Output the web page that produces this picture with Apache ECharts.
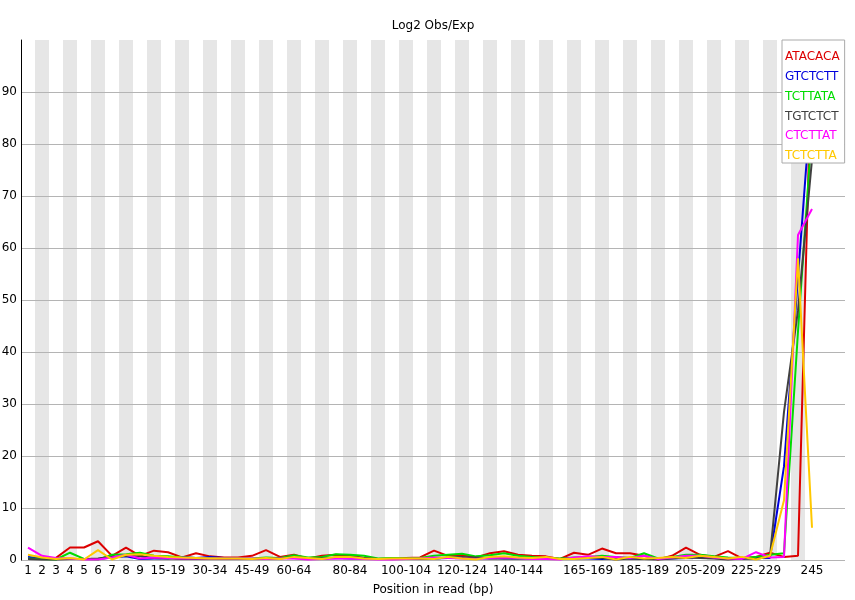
<!DOCTYPE html>
<html>
<head>
<meta charset="utf-8">
<script src="https://cdn.jsdelivr.net/npm/echarts@6/dist/echarts.min.js"></script>
<style>
html,body{margin:0;padding:0;background:#fff;}
#chart{width:855px;height:600px;}
</style>
</head>
<body>
<div id="chart"></div>
<script>
const categories = ['1','2','3','4','5','6','7','8','9','10-14','15-19','20-24','25-29','30-34','35-39','40-44','45-49','50-54','55-59','60-64','65-69','70-74','75-79','80-84','85-89','90-94','95-99','100-104','105-109','110-114','115-119','120-124','125-129','130-134','135-139','140-144','145-149','150-154','155-159','160-164','165-169','170-174','175-179','180-184','185-189','190-194','195-199','200-204','205-209','210-214','215-219','220-224','225-229','230-234','235-239','240-244','245'];
const shownLabels = ['1','2','3','4','5','6','7','8','9','15-19','30-34','45-49','60-64','80-84','100-104','120-124','140-144','165-169','185-189','205-209','225-229','245'];
const yTicks = [0,10,20,30,40,50,60,70,80,90];

const seriesNames = ['ATACACA','GTCTCTT','TCTTATA','TGTCTCT','CTCTTAT','TCTCTTA'];
const seriesColors = ['#dc0000','#0000dc','#00dc00','#404040','#ff00ff','#ffc800'];

const ATACACA = [0.3,0.3,0.4,2.4,2.4,3.6,0.8,2.4,0.8,1.8,1.5,0.5,1.3,0.7,0.5,0.5,0.8,1.9,0.6,1.0,
  0.3,0.8,1.0,0.8,0.4,0.2,0.3,0.4,0.5,1.8,0.8,1.0,0.5,1.3,1.7,1.0,0.8,0.7,0.2,
  1.4,1.0,2.2,1.3,1.3,0.8,0.1,0.8,2.4,1.0,0.6,1.7,0.3,0.6,1.4,0.6,0.8,100];
const GTCTCTT = [0.6,0.3,0.2,0.2,0.2,0.2,0.5,0.7,0.2,0.3,0.3,0.6,0.4,0.6,0.4,0.3,0.2,0.3,0.4,0.4,
  0.3,0.3,0.4,0.3,0.3,0.2,0.2,0.2,0.3,0.3,0.4,0.5,0.3,0.4,0.3,0.3,0.4,0.3,0.2,
  0.3,0.3,0.2,0.4,0.3,0.2,0.2,0.3,0.4,0.6,0.4,0.3,0.3,0.5,0.4,18,54.5,90.5];
const TCTTATA = [0.3,0.2,0.1,1.4,0.2,0.1,1.0,1.1,1.4,0.8,0.7,0.5,0.4,0.4,0.3,0.3,0.3,0.5,0.4,0.9,
  0.5,0.6,1.1,1.0,0.8,0.3,0.4,0.3,0.4,0.8,1.0,1.2,0.7,0.9,1.3,0.8,0.6,0.4,0.3,
  0.5,0.6,0.8,0.6,0.4,1.3,0.3,0.6,1.0,1.0,0.7,0.5,0.4,0.6,1.0,1.3,44,83];
const TGTCTCT = [0.2,0.1,0.1,0.2,0.2,0.3,0.6,0.8,0.7,0.4,0.3,0.2,0.2,0.2,0.2,0.2,0.2,0.2,0.3,0.6,
  0.3,0.3,0.5,0.6,0.4,0.2,0.2,0.2,0.2,0.3,0.5,0.6,0.5,0.3,0.3,0.3,0.3,0.2,0.2,
  0.3,0.5,0.4,0.1,0.3,0.2,0.1,0.3,0.5,0.4,0.3,0.1,0.3,0.2,0.7,28.5,48,77];
const CTCTTAT = [2.4,0.8,0.4,0.3,0.1,0.1,0.5,1.0,0.3,0.5,0.4,0.3,0.3,0.3,0.3,0.3,0.3,0.2,0.3,0.3,
  0.1,0.2,0.3,0.3,0.2,0.1,0.1,0.2,0.3,0.5,0.4,0.3,0.2,0.4,0.5,0.4,0.2,0.2,0.1,
  0.5,0.7,0.6,0.6,0.4,0.8,0.2,0.5,0.8,0.8,0.5,0.3,0.2,1.5,0.5,0.6,62.5,67.5];
const TCTCTTA = [1.0,0.5,0.2,0.4,0.1,1.9,0.1,1.0,1.1,0.8,0.6,0.5,0.4,0.3,0.3,0.3,0.2,0.4,0.2,0.6,
  0.4,0.2,0.6,0.6,0.3,0.2,0.3,0.3,0.3,0.2,0.6,0.3,0.1,0.6,0.7,0.5,0.4,0.6,0.2,
  0.2,0.4,0.6,0.1,0.6,0.3,0.4,0.6,0.4,0.8,0.6,0.3,0.6,0.1,0.8,11.5,58,6.2];
const seriesValues = [ATACACA, GTCTCTT, TCTTATA, TGTCTCT, CTCTTAT, TCTCTTA];

const FONT = 'DejaVu Sans';
const chart = echarts.init(document.getElementById('chart'), null, {renderer: 'canvas'});

const option = {
  animation: false,
  backgroundColor: '#ffffff',
  textStyle: {fontFamily: FONT},
  title: {
    text: 'Log2 Obs/Exp',
    left: 428,
    textAlign: 'center',
    top: 15,
    textStyle: {fontFamily: FONT, fontSize: 12, fontWeight: 'normal', color: '#000'}
  },
  legend: {
    orient: 'vertical',
    left: 782,
    top: 40,
    icon: 'none',
    itemWidth: 0,
    itemHeight: 14,
    itemGap: 6.8,
    padding: [10, 5, 1, -2],
    backgroundColor: '#ffffff',
    borderColor: '#aaaaaa',
    borderWidth: 1,
    z: 10,
    selectedMode: false,
    data: seriesNames.map((n, i) => ({name: n, textStyle: {color: seriesColors[i], fontFamily: FONT, fontSize: 12}}))
  },
  grid: [
    {left: 21, right: 10, top: 40, bottom: 40, outerBoundsMode: 'none', containLabel: false},
    {left: 21, width: 798, top: 40, bottom: 40, outerBoundsMode: 'none', containLabel: false}
  ],
  xAxis: [
    {
      gridIndex: 0, type: 'value', min: 0, max: 1,
      axisLine: {show: false}, axisTick: {show: false}, axisLabel: {show: false}, splitLine: {show: false},
      name: 'Position in read (bp)', nameLocation: 'middle', nameGap: 24,
      nameTextStyle: {fontFamily: FONT, fontSize: 12, color: '#000'}
    },
    {
      gridIndex: 1, type: 'category', data: categories, boundaryGap: true,
      axisLine: {show: false}, axisTick: {show: false},
      axisLabel: {interval: 0, margin: 5, color: '#000', fontFamily: FONT, fontSize: 12,
        formatter: v => shownLabels.includes(v) ? v : ''},
      splitLine: {show: false},
      splitArea: {show: true, interval: 0, areaStyle: {color: ['rgba(255,255,255,0)', '#e6e6e6']}},
      z: 0
    }
  ],
  yAxis: [
    {
      gridIndex: 0, type: 'value', min: 0, max: 100, interval: 10,
      axisLine: {show: true, lineStyle: {color: '#000', width: 1}},
      axisTick: {show: false},
      axisLabel: {margin: 4, color: '#000', fontFamily: FONT, fontSize: 12, showMaxLabel: false,
        formatter: v => yTicks.includes(v) ? String(v) : ''},
      splitLine: {show: true, showMaxLine: false, lineStyle: {color: '#b4b4b4', width: 1}},
      z: 1
    },
    {
      gridIndex: 1, type: 'value', min: 0, max: 100, show: false
    }
  ],
  series: seriesNames.map((n, i) => ({
    name: n,
    type: 'line',
    xAxisIndex: 1,
    yAxisIndex: 1,
    data: seriesValues[i],
    showSymbol: false,
    symbol: 'none',
    lineStyle: {color: seriesColors[i], width: 2},
    itemStyle: {color: seriesColors[i]},
    z: 3 + i
  }))
};
chart.setOption(option);
</script>
</body>
</html>
